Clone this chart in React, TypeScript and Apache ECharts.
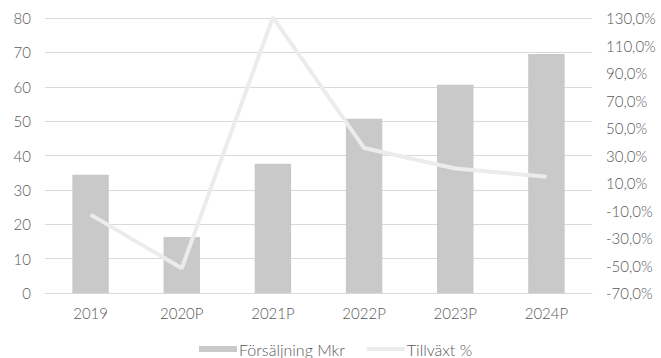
import React, { useEffect, useRef } from "react";
import * as echarts from "echarts";

const categories = ["2019", "2020P", "2021P", "2022P", "2023P", "2024P"];
const salesMkr = [34.4, 16.3, 37.6, 50.7, 60.6, 69.5];
const growthPct = [-13.0, -52.0, 130.5, 35.5, 20.5, 14.5];

export default function App() {
  const ref = useRef<HTMLDivElement>(null);
  useEffect(() => {
    const chart = echarts.init(ref.current!, null, { renderer: "svg" });
    const font = "Lato";
    const labelStyle = { color: "#595959", fontSize: 15, fontFamily: font, fontWeight: 300 };
    chart.setOption({
      animation: false,
      backgroundColor: "#ffffff",
      textStyle: { fontFamily: font },
      grid: { left: 45, right: 69, top: 18, bottom: 65 },
      legend: {
        top: 341,
        left: 199,
        padding: 0,
        itemGap: 22,
        itemWidth: 38,
        itemHeight: 6,
        textStyle: { color: "#595959", fontSize: 16, fontFamily: font, fontWeight: 300, padding: [0, 0, 0, -3] },
        data: [
          { name: "Försäljning Mkr", icon: "rect" },
          { name: "Tillväxt %", icon: "path://M0,0H38V4H0Z" },
        ],
      },
      xAxis: {
        type: "category",
        data: categories,
        axisLine: { lineStyle: { color: "#d9d9d9" } },
        axisTick: { show: false },
        axisLabel: { ...labelStyle, margin: 12 },
      },
      yAxis: [
        {
          type: "value",
          min: 0,
          max: 80,
          interval: 10,
          axisLine: { show: false },
          axisTick: { show: false },
          splitLine: { lineStyle: { color: "#d9d9d9" } },
          axisLabel: { ...labelStyle, margin: 14 },
        },
        {
          type: "value",
          min: -70,
          max: 130,
          interval: 20,
          axisLine: { show: false },
          axisTick: { show: false },
          splitLine: { show: false },
          axisLabel: {
            ...labelStyle,
            margin: 14,
            formatter: (v: number) => v.toFixed(1).replace(".", ",") + "%",
          },
        },
      ],
      series: [
        {
          name: "Försäljning Mkr",
          type: "bar",
          data: salesMkr,
          barWidth: "40%",
          itemStyle: { color: "#c9c9c9" },
        },
        {
          name: "Tillväxt %",
          type: "line",
          yAxisIndex: 1,
          data: growthPct,
          symbol: "none",
          lineStyle: { color: "#ececec", width: 4 },
          itemStyle: { color: "#ececec" },
        },
      ],
    });
    return () => chart.dispose();
  }, []);
  return (
    <div
      ref={ref}
      style={{ width: 661, height: 358, position: "absolute", top: 0, left: 0 }}
    />
  );
}
